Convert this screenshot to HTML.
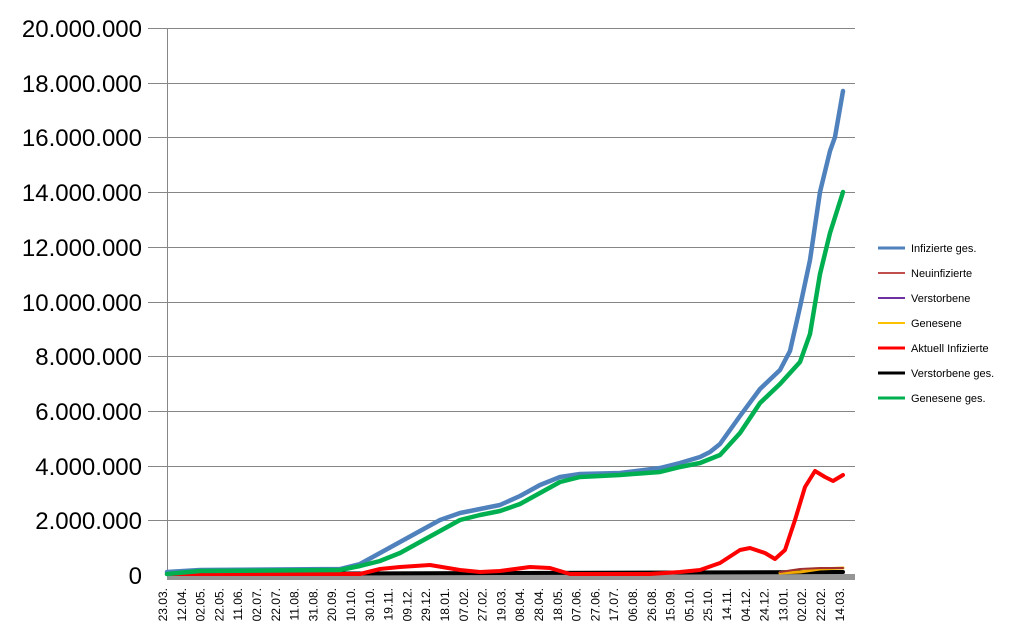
<!DOCTYPE html>
<html><head><meta charset="utf-8"><style>
body{margin:0;background:#fff;}
svg{display:block;font-family:"Liberation Sans",sans-serif;}
</style></head><body>
<svg width="1012" height="637" viewBox="0 0 1012 637">
<g stroke="#868686" stroke-width="1">
<line x1="148" x2="855" y1="28.5" y2="28.5"/>
<line x1="148" x2="855" y1="83.5" y2="83.5"/>
<line x1="148" x2="855" y1="137.5" y2="137.5"/>
<line x1="148" x2="855" y1="192.5" y2="192.5"/>
<line x1="148" x2="855" y1="247.5" y2="247.5"/>
<line x1="148" x2="855" y1="302.5" y2="302.5"/>
<line x1="148" x2="855" y1="356.5" y2="356.5"/>
<line x1="148" x2="855" y1="411.5" y2="411.5"/>
<line x1="148" x2="855" y1="466.5" y2="466.5"/>
<line x1="148" x2="855" y1="520.5" y2="520.5"/>
<line x1="167.5" x2="167.5" y1="28" y2="576"/>
</g>
<rect x="167" y="574" width="688" height="6" fill="#959595"/>
<g font-size="24" text-anchor="end" fill="#000">
<text x="142" y="37">20.000.000</text>
<text x="142" y="92">18.000.000</text>
<text x="142" y="146">16.000.000</text>
<text x="142" y="201">14.000.000</text>
<text x="142" y="256">12.000.000</text>
<text x="142" y="311">10.000.000</text>
<text x="142" y="365">8.000.000</text>
<text x="142" y="420">6.000.000</text>
<text x="142" y="475">4.000.000</text>
<text x="142" y="529">2.000.000</text>
<text x="142" y="584">0</text>
</g>
<g fill="none" stroke-width="4" stroke-linejoin="round" stroke-linecap="round">
<polyline stroke="#000" points="167,574 843,572"/>
<polyline stroke="#f2a900" stroke-width="3" points="780,573 800,572 820,569 843,568"/>
<polyline stroke="#a03030" stroke-width="2" points="780,572 800,569 820,568 843,568"/>
<polyline stroke="#ff0000" points="167,574 360,574 380,569 400,567 430,565 460,570 480,572 500,571 530,567 550,568 570,574 650,574 680,572 700,570 720,563 740,550 750,548 765,553 775,559 785,550 795,520 805,487 815,471 825,477 833,481 843,475"/>
<polyline stroke="#4f81bd" stroke-width="4.5" points="167,572 200,570 340,569 360,564 380,553 400,542 420,531 440,520 460,513 480,509 500,505 520,496 540,485 560,477 580,474 620,473 660,468 680,463 700,457 710,452 720,444 740,416 760,389 780,370 790,351 800,307 810,260 820,192 830,151 835,137 843,91"/>
<polyline stroke="#00b050" stroke-width="4.5" points="167,574 200,571 340,570 360,566 380,561 400,553 420,542 440,531 460,520 480,515 500,511 520,504 540,493 560,482 580,477 620,475 660,472 680,467 700,463 720,455 740,433 760,403 780,384 800,362 810,334 820,274 830,233 843,192"/>
</g>
<g font-size="11" fill="#000">
<line x1="878" x2="905" y1="248" y2="248" stroke="#4f81bd" stroke-width="3"/><text x="911" y="252">Infizierte ges.</text>
<line x1="878" x2="905" y1="273" y2="273" stroke="#c0504d" stroke-width="2"/><text x="911" y="277">Neuinfizierte</text>
<line x1="878" x2="905" y1="298" y2="298" stroke="#7030a0" stroke-width="2"/><text x="911" y="302">Verstorbene</text>
<line x1="878" x2="905" y1="323" y2="323" stroke="#ffc000" stroke-width="2"/><text x="911" y="327">Genesene</text>
<line x1="878" x2="905" y1="348" y2="348" stroke="#ff0000" stroke-width="3"/><text x="911" y="352">Aktuell Infizierte</text>
<line x1="878" x2="905" y1="373" y2="373" stroke="#000" stroke-width="3"/><text x="911" y="377">Verstorbene ges.</text>
<line x1="878" x2="905" y1="398" y2="398" stroke="#00b050" stroke-width="3"/><text x="911" y="402">Genesene ges.</text>
</g>
<g font-size="12" fill="#000" text-anchor="end">
<text transform="translate(167.0,588) rotate(-90)">23.03.</text>
<text transform="translate(185.8,588) rotate(-90)">12.04.</text>
<text transform="translate(204.6,588) rotate(-90)">02.05.</text>
<text transform="translate(223.4,588) rotate(-90)">22.05.</text>
<text transform="translate(242.2,588) rotate(-90)">11.06.</text>
<text transform="translate(261.0,588) rotate(-90)">02.07.</text>
<text transform="translate(279.8,588) rotate(-90)">22.07.</text>
<text transform="translate(298.6,588) rotate(-90)">11.08.</text>
<text transform="translate(317.4,588) rotate(-90)">31.08.</text>
<text transform="translate(336.2,588) rotate(-90)">20.09.</text>
<text transform="translate(355.0,588) rotate(-90)">10.10.</text>
<text transform="translate(373.8,588) rotate(-90)">30.10.</text>
<text transform="translate(392.6,588) rotate(-90)">19.11.</text>
<text transform="translate(411.4,588) rotate(-90)">09.12.</text>
<text transform="translate(430.2,588) rotate(-90)">29.12.</text>
<text transform="translate(449.0,588) rotate(-90)">18.01.</text>
<text transform="translate(467.8,588) rotate(-90)">07.02.</text>
<text transform="translate(486.6,588) rotate(-90)">27.02.</text>
<text transform="translate(505.4,588) rotate(-90)">19.03.</text>
<text transform="translate(524.2,588) rotate(-90)">08.04.</text>
<text transform="translate(543.0,588) rotate(-90)">28.04.</text>
<text transform="translate(561.8,588) rotate(-90)">18.05.</text>
<text transform="translate(580.6,588) rotate(-90)">07.06.</text>
<text transform="translate(599.4,588) rotate(-90)">27.06.</text>
<text transform="translate(618.2,588) rotate(-90)">17.07.</text>
<text transform="translate(637.0,588) rotate(-90)">06.08.</text>
<text transform="translate(655.8,588) rotate(-90)">26.08.</text>
<text transform="translate(674.6,588) rotate(-90)">15.09.</text>
<text transform="translate(693.4,588) rotate(-90)">05.10.</text>
<text transform="translate(712.2,588) rotate(-90)">25.10.</text>
<text transform="translate(731.0,588) rotate(-90)">14.11.</text>
<text transform="translate(749.8,588) rotate(-90)">04.12.</text>
<text transform="translate(768.6,588) rotate(-90)">24.12.</text>
<text transform="translate(787.4,588) rotate(-90)">13.01.</text>
<text transform="translate(806.2,588) rotate(-90)">02.02.</text>
<text transform="translate(825.0,588) rotate(-90)">22.02.</text>
<text transform="translate(843.8,588) rotate(-90)">14.03.</text>
</g>
</svg>
</body></html>
